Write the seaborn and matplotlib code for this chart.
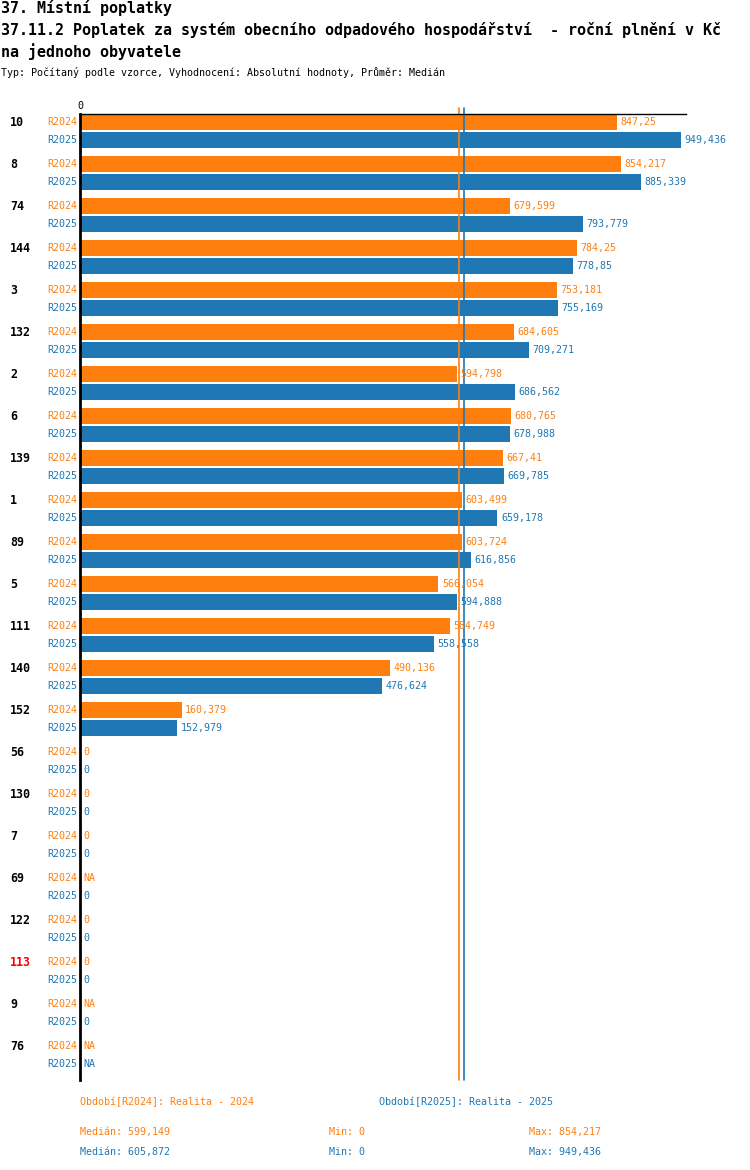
import numpy as np
import pandas as pd
import matplotlib
matplotlib.use("Agg")
import matplotlib.pyplot as plt
import matplotlib.transforms as mtransforms
import seaborn as sns

# Data
categories = ['10', '8', '74', '144', '3', '132', '2', '6', '139', '1', '89', '5',
              '111', '140', '152', '56', '130', '7', '69', '122', '113', '9', '76']
r2024 = [847.25, 854.217, 679.599, 784.25, 753.181, 684.605, 594.798, 680.765,
         667.41, 603.499, 603.724, 566.054, 584.749, 490.136, 160.379,
         0, 0, 0, np.nan, 0, 0, np.nan, np.nan]
r2025 = [949.436, 885.339, 793.779, 778.85, 755.169, 709.271, 686.562, 678.988,
         669.785, 659.178, 616.856, 594.888, 558.558, 476.624, 152.979,
         0, 0, 0, 0, 0, 0, 0, np.nan]
periods = ['R2024', 'R2025']
period_names = ['Období[R2024]: Realita - 2024', 'Období[R2025]: Realita - 2025']
highlight = '113'

ORANGE = '#ff7f0e'
BLUE = '#1f77b4'
colors = [ORANGE, BLUE]

sns.set_style("white")
plt.rcParams['font.family'] = ['DejaVu Sans Mono', 'DejaVu Sans']
plt.rcParams['text.color'] = 'black'

df = pd.DataFrame({
    "cat": categories * 2,
    "period": ['R2024'] * len(categories) + ['R2025'] * len(categories),
    "value": r2024 + r2025,
})
df["plot_value"] = df["value"].fillna(0)

fig = plt.figure(figsize=(7.5, 11.7), dpi=100)
W, H = 750, 1170
ax = fig.add_axes([80 / W, 1 - 1080 / H, 606 / W, 966 / H])

sns.barplot(data=df, y="cat", x="plot_value", hue="period", order=categories,
            hue_order=periods, palette=colors, orient="h", width=0.857, gap=0.11,
            saturation=1, linewidth=0, legend=False, ax=ax)

ax.set_xlim(0, 957)
ax.set_ylim(22 + 25 / 42, -0.5 + 4 / 42)
ax.set_xlabel("")
ax.set_ylabel("")
ax.set_yticks([])
ax.set_xticks([0])
ax.xaxis.tick_top()
ax.tick_params(axis="x", length=0, pad=2, labelsize=7.2, labelcolor="black")
for s in ["right", "bottom"]:
    ax.spines[s].set_visible(False)
ax.spines["top"].set_color("black")
ax.spines["top"].set_linewidth(1)
ax.spines["left"].set_color("black")
ax.spines["left"].set_linewidth(2)

def fmt(v):
    if np.isnan(v):
        return "NA"
    return f"{round(v + 1e-9, 3):g}".replace(".", ",")

offsets = [-0.214, 0.214]
cat_trans = mtransforms.blended_transform_factory(fig.transFigure, ax.transData)
for i, cat in enumerate(categories):
    ax.text(10 / W, i + offsets[0], cat, transform=cat_trans, ha="left", va="center",
            fontsize=8.4, fontweight="bold",
            color="red" if cat == highlight else "black")
    for vals, off, col, per in zip([r2024, r2025], offsets, colors, periods):
        v = vals[i]
        ax.annotate(per, xy=(0, i + off), xytext=(-2, 0), textcoords="offset points",
                    ha="right", va="center", fontsize=7.2, color=col, annotation_clip=False)
        x = 0 if np.isnan(v) else v
        ax.annotate(fmt(v), xy=(x, i + off), xytext=(2.5, 0), textcoords="offset points",
                    ha="left", va="center", fontsize=7.2, color=col, annotation_clip=False)

medians = [np.nanmedian(r2024), np.nanmedian(r2025)]
mins = [np.nanmin(r2024), np.nanmin(r2025)]
maxs = [np.nanmax(r2024), np.nanmax(r2025)]
for m, col in zip(medians, colors):
    ax.axvline(m, ymin=0, ymax=1.006, color=col, lw=1.2, clip_on=False)

# Titles
fig.text(1 / W, 1 - 8 / H, "37. Místní poplatky", fontsize=10.8, fontweight="bold", va="center")
fig.text(1 / W, 1 - 30 / H,
         "37.11.2 Poplatek za systém obecního odpadového hospodářství  - roční plnění v Kč",
         fontsize=10.8, fontweight="bold", va="center")
fig.text(1 / W, 1 - 52 / H, "na jednoho obyvatele", fontsize=10.8, fontweight="bold", va="center")
fig.text(1 / W, 1 - 73 / H,
         "Typ: Počítaný podle vzorce, Vyhodnocení: Absolutní hodnoty, Průměr: Medián",
         fontsize=7.2, va="center")

# Footer
fig.text(80 / W, 1 - 1102 / H, period_names[0], fontsize=7.2, color=ORANGE, va="center")
fig.text(379 / W, 1 - 1102 / H, period_names[1], fontsize=7.2, color=BLUE, va="center")
for k, (yy, col) in enumerate(zip([1132, 1152], colors)):
    fig.text(80 / W, 1 - yy / H, "Medián: " + fmt(medians[k]), fontsize=7.2, color=col, va="center")
    fig.text(329 / W, 1 - yy / H, "Min: " + fmt(mins[k]), fontsize=7.2, color=col, va="center")
    fig.text(529 / W, 1 - yy / H, "Max: " + fmt(maxs[k]), fontsize=7.2, color=col, va="center")

fig.savefig("out.png", dpi=100)
